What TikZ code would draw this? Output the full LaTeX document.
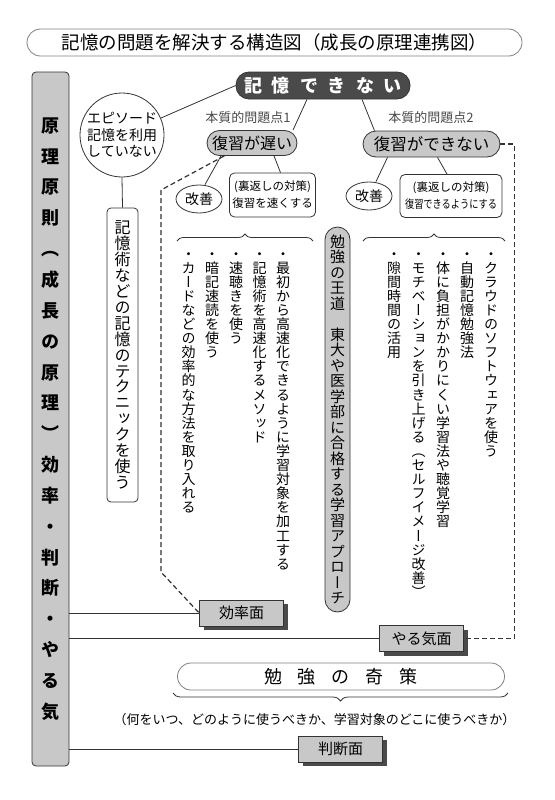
\documentclass[tikz,border=0pt]{standalone}
\usepackage{fontspec}
\usepackage{graphicx}
\setmainfont{Noto Sans CJK JP}
\newfontfamily\vjp[RawFeature=+vert]{Noto Sans CJK JP}
\usetikzlibrary{shapes.geometric,decorations.pathreplacing,calc}
\definecolor{lg}{HTML}{C8C8C8}
\definecolor{dg}{HTML}{4A4A4A}
\definecolor{ln}{HTML}{333333}
\makeatletter
\newdimen\vt@pitch
\def\vt@end{}
\def\vtext#1#2{\vtop{\vt@pitch=#1\relax\baselineskip=\vt@pitch\lineskiplimit=-\maxdimen\lineskip=0pt\vt@loop#2\vt@end}}
\def\vt@loop#1{\ifx#1\vt@end\else\hbox to 1em{\hss#1\hss}\expandafter\vt@loop\fi}
\makeatother
\begin{document}
\begin{tikzpicture}[x=1pt,y=-1pt,
  ln/.style={draw=ln, line width=0.8pt},
  dsh/.style={draw=ln, line width=1.2pt, dash pattern=on 5pt off 3pt},
  pill/.style={draw=ln, line width=0.8pt, inner sep=0pt},
  facet/.style={draw=ln, line width=0.8pt, fill=lg, minimum width=84pt, minimum height=26pt, inner sep=0pt,
     font=\fontsize{15}{15}\selectfont},
  shadowfill/.style={fill=dg},
  item/.style={anchor=base, inner sep=0pt, font=\vjp\fontsize{14}{14}\selectfont},
  lab/.style={text=dg, inner sep=0pt, font=\fontsize{13}{13}\selectfont}
]
\fill[white] (0,0) rectangle (554,800);
\useasboundingbox (0,0) rectangle (554,800);

% title
\node[pill, draw=gray, rounded corners=13.5pt, minimum width=495pt, minimum height=27pt,
  font=\fontsize{18.5}{19}\selectfont] (title) at (274.5,42.5) {記憶の問題を解決する構造図（成長の原理連携図）};

% left bar
\node[pill, fill=lg, rounded corners=4pt, minimum width=37pt, minimum height=694pt,
  font=\vjp\bfseries\fontsize{18}{18}\selectfont] (bar) at (50.5,419) {\vtext{30.85pt}{原理原則（成長の原理）効率・判断・やる気}};

% top
\node[pill, fill=dg, rounded corners=13pt, minimum width=174pt, minimum height=27pt, text=white,
  font=\bfseries\fontsize{18}{18}\selectfont] (kioku) at (323,85.5)
  {記\hspace{10pt}憶\hspace{10pt}で\hspace{10pt}き\hspace{10pt}な\hspace{10pt}い};

\node[circle, ln, minimum size=84pt, inner sep=0pt, align=center,
  font=\fontsize{14}{16.5}\selectfont] (epi) at (122,135) {エピソード\\記憶を利用\\していない};

\node[pill, rounded corners=4pt, minimum width=31pt, minimum height=294pt,
  font=\vjp\fontsize{16}{16}\selectfont] (tech) at (122.5,355) {\vtext{15.9pt}{記憶術などの記憶のテクニックを使う}};

\node[lab] (lab1) at (248,118) {本質的問題点1};
\node[lab] (lab2) at (431,118) {本質的問題点2};

\node[pill, fill=lg, rounded corners=12.5pt, minimum width=90pt, minimum height=25pt,
  font=\fontsize{16}{16}\selectfont] (osoi) at (252,143) {復習が遅い};
\node[pill, fill=lg, rounded corners=13pt, minimum width=137pt, minimum height=26pt,
  font=\fontsize{16.5}{16.5}\selectfont] (dekinai) at (431.5,144) {復習ができない};

\node[ellipse, ln, minimum width=46pt, minimum height=28pt, inner sep=0pt,
  font=\fontsize{14}{14}\selectfont] (kaizen1) at (199,199) {改善};
\node[ellipse, ln, minimum width=46pt, minimum height=28pt, inner sep=0pt,
  font=\fontsize{14}{14}\selectfont] (kaizen2) at (369,196) {改善};

\node[pill, rounded corners=5pt, minimum width=86pt, minimum height=44pt, align=center,
  font=\fontsize{11.5}{17}\selectfont] (ura1) at (272.5,195) {(裏返しの対策)\\復習を速くする};
\node[pill, rounded corners=5pt, minimum width=102pt, minimum height=43pt, align=center,
  font=\fontsize{11.5}{17}\selectfont] (ura2) at (451,196) {(裏返しの対策)\\\scalebox{0.8}[1]{復習できるようにする}};

\draw[ln] (epi) -- (kioku.west);
\draw[ln] (epi.south) -- (tech.north);
\draw[ln] ([xshift=-16pt]kioku.south) -- ([xshift=41pt]osoi.north);
\draw[ln] ([xshift=39pt]kioku.south) -- ([xshift=-57pt]dekinai.north);
\draw[ln] ([xshift=-31pt]osoi.south) -- ([xshift=6pt]kaizen1.north);
\draw[ln] ([xshift=22pt]osoi.south) -- ([xshift=8pt]ura1.north);
\draw[ln] ([xshift=-44pt]dekinai.south) -- ([xshift=7pt]kaizen2.north);
\draw[ln] ([xshift=6pt]dekinai.south) -- ([xshift=-4pt]ura2.north);

% braces
\draw[ln, decorate, decoration={brace, amplitude=7pt}] (177,241) -- (313,241);
\draw[ln, decorate, decoration={brace, amplitude=7pt}] (363,241) -- (505,241);

% left items
\node[item] (a1) at (283,259) {\vtext{14.1pt}{・最初から高速化できるように学習対象を加工する}};
\node[item] (a2) at (259.5,259) {\vtext{14.1pt}{・記憶術を高速化するメソッド}};
\node[item] (a3) at (236,259) {\vtext{14.1pt}{・速聴きを使う}};
\node[item] (a4) at (212,259) {\vtext{14.1pt}{・暗記速読を使う}};
\node[item] (a5) at (188.5,259) {\vtext{14.1pt}{・カードなどの効率的な方法を取り入れる}};

% right items
\node[item] (b1) at (491,259) {\vtext{14.1pt}{・クラウドのソフトウェアを使う}};
\node[item] (b2) at (467,259) {\vtext{14.1pt}{・自動記憶勉強法}};
\node[item] (b3) at (443,259) {\vtext{14.1pt}{・体に負担がかかりにくい学習法や聴覚学習}};
\node[item] (b4) at (418.5,259) {\vtext{14.1pt}{・モチベーションを引き上げる（セルフイメージ改善）}};
\node[item] (b5) at (394,259) {\vtext{14.1pt}{・隙間時間の活用}};

% central pill
\node[pill, fill=lg, rounded corners=12.5pt, minimum width=25pt, minimum height=385pt,
  font=\vjp\fontsize{15}{15}\selectfont] (oudou) at (337.5,419.5) {\vtext{15.5pt}{勉強の王道　東大や医学部に合格する学習アプローチ}};

% facets (shadow first, box on top)
\fill[shadowfill] (203.5,604) rectangle (287.5,630);
\node[facet] (kouritsu) at (241.5,613) {効率面};
\fill[shadowfill] (383.5,629.5) rectangle (467.5,655.5);
\node[facet] (yaruki) at (421.5,638.5) {やる気面};
\fill[shadowfill] (302.5,740) rectangle (386.5,766);
\node[facet] (handan) at (340.5,749) {判断面};

\draw[ln] (bar.east |- kouritsu.west) -- (kouritsu.west);
\draw[ln] (bar.east |- yaruki.west) -- (yaruki.west);
\draw[ln] (bar.east |- handan.west) -- (handan.west);

\draw[dsh] (osoi.205) -- (161,190) -- (161,572) -- (kouritsu.west);
\draw[dsh] (dekinai.east) -- ++(14,0) |- (yaruki.east);

% kisaku
\node[pill, draw=gray, fill=white, rounded corners=13.5pt, minimum width=327pt, minimum height=27pt,
  font=\fontsize{18}{18}\selectfont] (kisaku) at (341,676.5)
  {勉\hspace{16pt}強\hspace{16pt}の\hspace{16pt}奇\hspace{16pt}策};
\draw[ln, decorate, decoration={brace, amplitude=8pt}] (508,693) -- (173,693);
\node[inner sep=0pt, font=\fontsize{13}{13}\selectfont] (cap) at (314.5,720) {（何をいつ、どのように使うべきか、学習対象のどこに使うべきか）};
\end{tikzpicture}
\end{document}
